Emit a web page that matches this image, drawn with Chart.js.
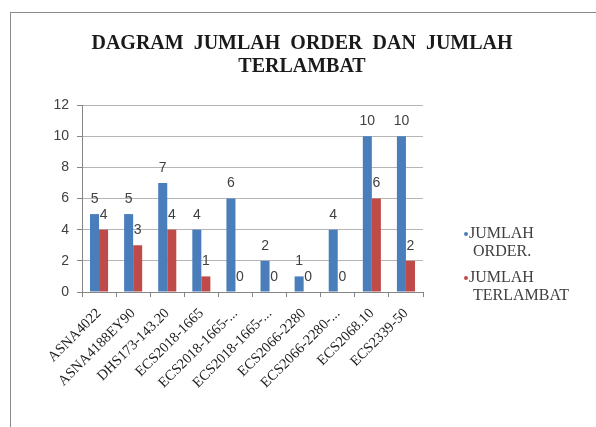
<!DOCTYPE html>
<html>
<head>
<meta charset="utf-8">
<style>
  html, body { margin: 0; padding: 0; background: #fff; overflow: hidden; }
  #wrap { position: relative; width: 596px; height: 427px; }
  #frame { position: absolute; left: 10px; top: 12px; width: 600px; height: 430px; border: 1px solid #8a8a8a; box-sizing: border-box; }
  canvas { position: absolute; left: 0; top: 0; }
</style>
<script src="https://cdn.jsdelivr.net/npm/chart.js@4.4.0/dist/chart.umd.min.js"></script>
</head>
<body>
<div id="wrap">
  <div id="frame"></div>
  <canvas id="chart" width="596" height="427"></canvas>
</div>
<script>
// data
const categories = ["ASNA4022", "ASNA4188EY90", "DHS173-143.20", "ECS2018-1665",
  "ECS2018-1665-...", "ECS2018-1665-...", "ECS2066-2280", "ECS2066-2280-...",
  "ECS2068.10", "ECS2339-50"];
const jumlahOrder     = [5, 5, 7, 4, 6, 2, 1, 4, 10, 10];
const jumlahTerlambat = [4, 3, 4, 1, 0, 0, 0, 0, 6, 2];
const seriesNames = ["JUMLAH ORDER.", "JUMLAH TERLAMBAT"];
const titleLines = ["DAGRAM  JUMLAH  ORDER  DAN  JUMLAH", "TERLAMBAT"];

const BLUE = "#4a7ebb", RED = "#be4b48";
const AXIS = "#868686", GRID = "#b5b5b5", TXT = "#404040";

// judul manual (dua baris, serif tebal)
const titlePlugin = {
  id: "titleDraw",
  afterDraw(chart) {
    const ctx = chart.ctx;
    ctx.save();
    ctx.font = 'bold 20px "Liberation Serif"';
    ctx.fillStyle = "#1a1a1a";
    ctx.textAlign = "center";
    ctx.textBaseline = "middle";
    titleLines.forEach((t, i) => ctx.fillText(t, 302, 44 + i * 23));
    ctx.restore();
  }
};

// label angka di atas batang
const valueLabels = {
  id: "valueLabels",
  afterDatasetsDraw(chart) {
    const ctx = chart.ctx;
    ctx.save();
    ctx.font = '14px "Liberation Sans"';
    ctx.fillStyle = TXT;
    ctx.textAlign = "center";
    ctx.textBaseline = "middle";
    chart.data.datasets.forEach((ds, di) => {
      chart.getDatasetMeta(di).data.forEach((bar, i) => {
        ctx.fillText(String(ds.data[i]), bar.x, bar.y - 15);
      });
    });
    ctx.restore();
  }
};

// legenda di kanan, teks dibungkus dua baris
const sideLegend = {
  id: "sideLegend",
  afterDraw(chart) {
    const ctx = chart.ctx;
    ctx.save();
    ctx.font = '16px "Liberation Serif"';
    ctx.textBaseline = "middle";
    ctx.textAlign = "left";
    chart.data.datasets.forEach((ds, i) => {
      const y0 = 234 + i * 44;
      ctx.fillStyle = ds.backgroundColor;
      ctx.beginPath(); ctx.arc(466, y0, 2, 0, Math.PI * 2); ctx.fill();
      ctx.fillStyle = TXT;
      const words = ds.label.split(" ");
      ctx.fillText(words[0], 469, y0);
      ctx.fillText(words.slice(1).join(" "), 473, y0 + 18);
    });
    ctx.restore();
  }
};

new Chart(document.getElementById("chart").getContext("2d"), {
  type: "bar",
  data: {
    labels: categories,
    datasets: [
      { label: seriesNames[0], data: jumlahOrder, backgroundColor: BLUE, categoryPercentage: 0.53, barPercentage: 1 },
      { label: seriesNames[1], data: jumlahTerlambat, backgroundColor: RED, categoryPercentage: 0.53, barPercentage: 1 }
    ]
  },
  options: {
    responsive: false, animation: false,
    layout: { padding: { left: 10, top: 105, right: 173, bottom: 0 } },
    plugins: { legend: { display: false }, title: { display: false }, tooltip: { enabled: false } },
    scales: {
      x: {
        grid: { display: true, drawOnChartArea: false, offset: true, tickLength: 5, color: AXIS },
        border: { color: AXIS },
        ticks: { font: { family: "Liberation Serif", size: 14.5 }, color: "#1a1a1a", minRotation: 45, maxRotation: 45, autoSkip: false, padding: 8 },
        afterFit(s) { s.height = 135; }
      },
      y: {
        min: 0, max: 12,
        ticks: { stepSize: 2, font: { family: "Liberation Sans", size: 14 }, color: TXT, padding: 8 },
        grid: { color: GRID, tickLength: 5, tickColor: AXIS },
        border: { color: AXIS },
        afterFit(s) { s.width = 72; }
      }
    }
  },
  plugins: [titlePlugin, valueLabels, sideLegend]
});
</script>
</body>
</html>
